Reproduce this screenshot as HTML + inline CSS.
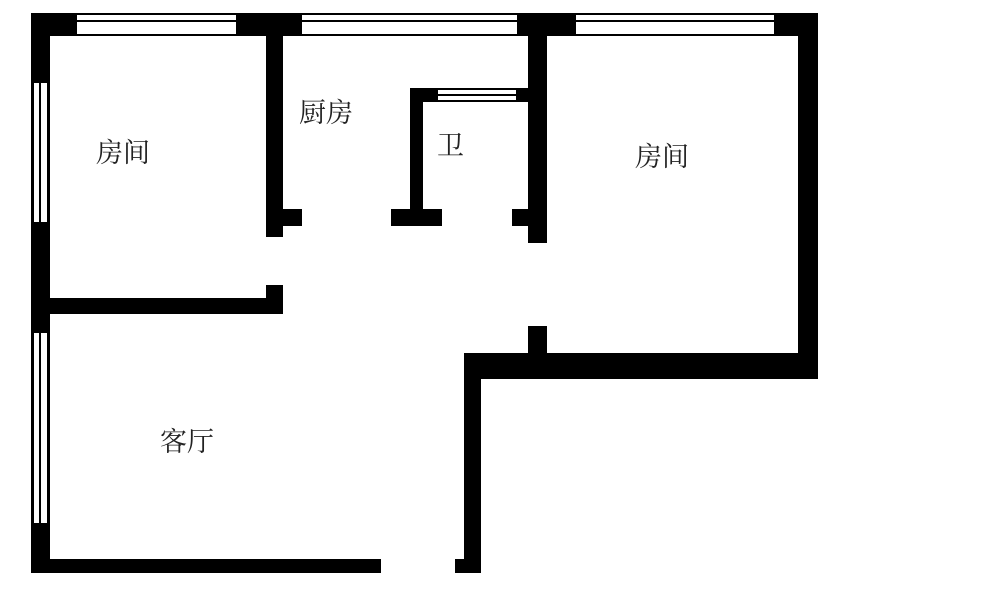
<!DOCTYPE html>
<html><head><meta charset="utf-8"><style>
html,body{margin:0;padding:0;background:#fff;}
svg{display:block}
text{font-family:"Liberation Serif","Noto Serif CJK SC",serif;font-size:27px;fill:#222;}
</style></head><body>
<svg width="1000" height="597" viewBox="0 0 1000 597" xmlns="http://www.w3.org/2000/svg">
<g fill="#000">
<!-- top wall solid parts -->
<rect x="31" y="13" width="46" height="23"/>
<rect x="236" y="13" width="66" height="23"/>
<rect x="517" y="13" width="59" height="23"/>
<rect x="774" y="13" width="44" height="23"/>
<!-- top windows lines -->
<rect x="77" y="13" width="159" height="2"/><rect x="77" y="20" width="159" height="2"/><rect x="77" y="34" width="159" height="2"/>
<rect x="302" y="13" width="215" height="2"/><rect x="302" y="20" width="215" height="2"/><rect x="302" y="34" width="215" height="2"/>
<rect x="576" y="13" width="198" height="2"/><rect x="576" y="20" width="198" height="2"/><rect x="576" y="34" width="198" height="2"/>
<!-- left wall solid parts -->
<rect x="31" y="13" width="19" height="70"/>
<rect x="31" y="222" width="19" height="111"/>
<rect x="31" y="523" width="19" height="50"/>
<!-- left windows lines -->
<rect x="31" y="83" width="3" height="139"/><rect x="39" y="83" width="2" height="139"/><rect x="47" y="83" width="3" height="139"/>
<rect x="31" y="333" width="3" height="190"/><rect x="39" y="333" width="2" height="190"/><rect x="47" y="333" width="3" height="190"/>
<!-- bottom wall -->
<rect x="31" y="559" width="350" height="14"/>
<rect x="455" y="559" width="26" height="14"/>
<rect x="464" y="353" width="17" height="220"/>
<!-- bottom right wall -->
<rect x="464" y="353" width="354" height="26"/>
<!-- right wall -->
<rect x="798" y="13" width="20" height="366"/>
<!-- left room partition -->
<rect x="266" y="36" width="17" height="201"/>
<rect x="283" y="209" width="19" height="17"/>
<rect x="266" y="285" width="17" height="29"/>
<rect x="48" y="298" width="235" height="16"/>
<!-- bathroom -->
<rect x="410" y="88" width="13" height="130"/>
<rect x="410" y="88" width="28" height="14"/>
<rect x="516" y="88" width="14" height="14"/>
<rect x="438" y="88" width="78" height="2"/><rect x="438" y="94" width="78" height="2"/><rect x="438" y="100" width="78" height="2"/>
<rect x="391" y="209" width="51" height="17"/>
<!-- right room left wall -->
<rect x="528" y="36" width="19" height="207"/>
<rect x="512" y="209" width="16" height="17"/>
<rect x="528" y="326" width="19" height="30"/>
</g>
<text x="96" y="162">房间</text>
<text x="299" y="122">厨房</text>
<text x="437" y="155">卫</text>
<text x="635" y="166">房间</text>
<text x="160" y="451">客厅</text>
</svg>
</body></html>
